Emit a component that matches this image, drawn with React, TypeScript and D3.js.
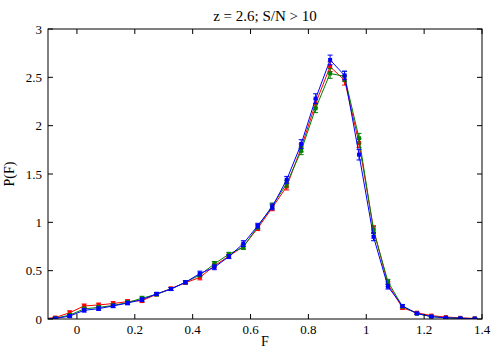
import React from "react";
import * as d3 from "d3";

const binF = [-0.125, -0.075, -0.025, 0.025, 0.075, 0.125, 0.175, 0.225, 0.275, 0.325, 0.375, 0.425, 0.475, 0.525, 0.575, 0.625, 0.675, 0.725, 0.775, 0.825, 0.875, 0.925, 0.975, 1.025, 1.075, 1.125, 1.175, 1.225, 1.275, 1.325, 1.375];

const redP = [0, 0.015, 0.065, 0.135, 0.145, 0.16, 0.18, 0.19, 0.255, 0.315, 0.375, 0.43, 0.55, 0.65, 0.75, 0.94, 1.15, 1.37, 1.77, 2.23, 2.61, 2.47, 1.82, 0.93, 0.36, 0.115, 0.065, 0.035, 0.02, 0.012, 0.006];
const greenP = [0, 0.008, 0.04, 0.105, 0.12, 0.14, 0.17, 0.215, 0.255, 0.31, 0.38, 0.455, 0.57, 0.67, 0.745, 0.955, 1.17, 1.4, 1.74, 2.18, 2.54, 2.51, 1.87, 0.92, 0.385, 0.13, 0.055, 0.025, 0.012, 0.007, 0.004];
const blueP = [0, 0.005, 0.03, 0.09, 0.107, 0.135, 0.165, 0.2, 0.26, 0.31, 0.38, 0.47, 0.535, 0.645, 0.78, 0.965, 1.16, 1.44, 1.81, 2.28, 2.68, 2.52, 1.7, 0.85, 0.335, 0.135, 0.058, 0.025, 0.012, 0.007, 0.004];

const redErr = [0, 0.01, 0.02, 0.02, 0.02, 0.02, 0.02, 0.02, 0.015, 0.015, 0.015, 0.025, 0.02, 0.02, 0.025, 0.025, 0.03, 0.035, 0.04, 0.045, 0.05, 0.05, 0.045, 0.035, 0.025, 0.015, 0.01, 0.008, 0.005, 0.004, 0.003];
const greenErr = [0, 0.008, 0.015, 0.018, 0.018, 0.018, 0.018, 0.02, 0.015, 0.015, 0.015, 0.02, 0.025, 0.02, 0.025, 0.025, 0.03, 0.035, 0.04, 0.045, 0.05, 0.05, 0.05, 0.035, 0.025, 0.015, 0.01, 0.008, 0.005, 0.004, 0.003];
const blueErr = [0, 0.008, 0.015, 0.018, 0.018, 0.018, 0.018, 0.02, 0.015, 0.015, 0.015, 0.025, 0.025, 0.02, 0.03, 0.025, 0.03, 0.035, 0.045, 0.05, 0.05, 0.045, 0.055, 0.04, 0.025, 0.015, 0.01, 0.008, 0.005, 0.004, 0.003];

const xTicks = [0, 0.2, 0.4, 0.6, 0.8, 1, 1.2, 1.4];
const yTicks = [0, 0.5, 1, 1.5, 2, 2.5, 3];

const seriesList = [
  { name: "red", color: "#ff0000", values: redP, errs: redErr },
  { name: "green", color: "#007f00", values: greenP, errs: greenErr },
  { name: "blue", color: "#0000ff", values: blueP, errs: blueErr },
];

const L = 48, R = 482, T = 29, B = 319;
const font = "'Liberation Serif', 'Times New Roman', serif";

export default function App() {
  const x = d3.scaleLinear().domain([-0.1, 1.4]).range([L, R]);
  const y = d3.scaleLinear().domain([0, 3]).range([B, T]);
  const line = d3.line<number>().x((_, i) => x(binF[i])).y((d) => y(d));
  const fmt = (v: number) => String(v);
  const tl = 5;
  return (
    <svg width={500} height={350} style={{ position: "absolute", left: 0, top: 0, background: "#fff" }}>
      <defs>
        <clipPath id="plotclip">
          <rect x={L} y={T} width={R - L} height={B - T} />
        </clipPath>
      </defs>
      <rect x={0} y={0} width={500} height={350} fill="#fff" />
      <g clipPath="url(#plotclip)">
        {seriesList.map((s) => (
          <g key={s.name}>
            <path d={line(s.values) || ""} fill="none" stroke={s.color} strokeWidth={1} />
            {s.values.map((v, i) => {
              const cx = x(binF[i]);
              const e = s.errs[i];
              const y1 = y(v - e), y2 = y(v + e);
              return (
                <g key={i} stroke={s.color} strokeWidth={1}>
                  <line x1={cx} x2={cx} y1={y1} y2={y2} />
                  <line x1={cx - 2.5} x2={cx + 2.5} y1={y1} y2={y1} />
                  <line x1={cx - 2.5} x2={cx + 2.5} y1={y2} y2={y2} />
                  <rect x={cx - 2} y={y(v) - 2} width={4} height={4} fill={s.color} stroke="none" />
                </g>
              );
            })}
          </g>
        ))}
      </g>
      <rect x={L} y={T} width={R - L} height={B - T} fill="none" stroke="#000" strokeWidth={1} />
      {xTicks.map((t) => (
        <g key={"x" + t}>
          <line x1={x(t)} x2={x(t)} y1={B} y2={B - tl} stroke="#000" />
          <line x1={x(t)} x2={x(t)} y1={T} y2={T + tl} stroke="#000" />
          <text x={x(t)} y={334} textAnchor="middle" fontFamily={font} fontSize={13}>{fmt(t)}</text>
        </g>
      ))}
      {yTicks.map((t) => (
        <g key={"y" + t}>
          <line x1={L} x2={L + tl} y1={y(t)} y2={y(t)} stroke="#000" />
          <line x1={R} x2={R - tl} y1={y(t)} y2={y(t)} stroke="#000" />
          <text x={42} y={y(t) + 4.5} textAnchor="end" fontFamily={font} fontSize={13}>{fmt(t)}</text>
        </g>
      ))}
      <text x={(L + R) / 2} y={21} textAnchor="middle" fontFamily={font} fontSize={15}>z = 2.6; S/N &gt; 10</text>
      <text x={(L + R) / 2} y={346} textAnchor="middle" fontFamily={font} fontSize={14}>F</text>
      <text transform={`translate(14,${(T + B) / 2}) rotate(-90)`} textAnchor="middle" fontFamily={font} fontSize={14}>P(F)</text>
    </svg>
  );
}
